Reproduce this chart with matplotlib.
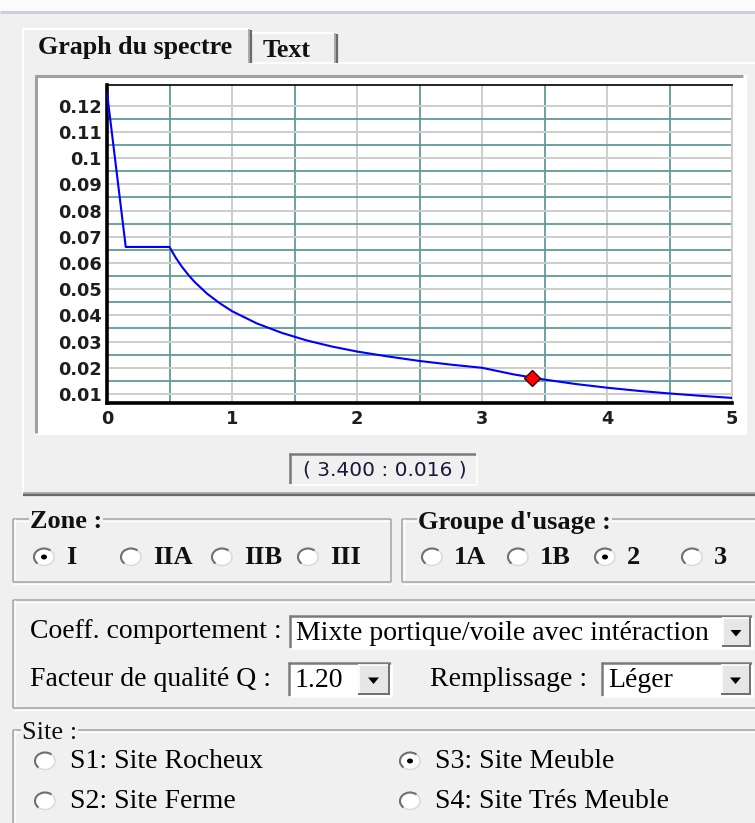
import matplotlib
matplotlib.use('Agg')
import matplotlib.pyplot as plt
from matplotlib.patches import Rectangle, Ellipse, Arc, Polygon

periodes = [0.0, 0.15, 0.5, 0.55, 0.6, 0.65, 0.7, 0.8, 0.9, 1.0, 1.2, 1.4, 1.6, 1.8, 2.0,
            2.25, 2.5, 2.75, 3.0, 3.25, 3.5, 3.75, 4.0, 4.25, 4.5, 4.75, 5.0]
spectre = [0.125, 0.0661, 0.0661, 0.0620, 0.0585, 0.0555, 0.0528, 0.0483, 0.0447, 0.0416,
           0.0369, 0.0333, 0.0304, 0.0281, 0.0262, 0.0243, 0.0226, 0.0212, 0.0200,
           0.0175, 0.0155, 0.0138, 0.0124, 0.0112, 0.0102, 0.0093, 0.0085]
point_t = [3.4]
point_sa = [0.0162]

x_ticks = [0, 1, 2, 3, 4, 5]
x_labels = ['0', '1', '2', '3', '4', '5']
x_minor = [0.5, 1.5, 2.5, 3.5, 4.5]
y_ticks = [0.01, 0.02, 0.03, 0.04, 0.05, 0.06, 0.07, 0.08, 0.09, 0.10, 0.11, 0.12]
y_labels = ['0.01', '0.02', '0.03', '0.04', '0.05', '0.06', '0.07', '0.08', '0.09',
            '0.1', '0.11', '0.12']
y_minor = [0.015, 0.025, 0.035, 0.045, 0.055, 0.065, 0.075, 0.085, 0.095, 0.105, 0.115]

tabs = ['Graph du spectre', 'Text']
zones = ['I', 'IIA', 'IIB', 'III']
zone_choisie = 'I'
groupes = ['1A', '1B', '2', '3']
groupe_choisi = '2'
sites = ['S1: Site Rocheux', 'S2: Site Ferme', 'S3: Site Meuble', 'S4: Site Trés Meuble']
site_choisi = 'S3: Site Meuble'
coeff = 'Mixte portique/voile avec intéraction'
facteur_q = '1.20'
remplissage = 'Léger'

W, H = 755, 823
BG = '#f0f0f0'
SERIF = ['Liberation Serif', 'DejaVu Serif']

fig = plt.figure(figsize=(W / 100, H / 100), dpi=100, facecolor=BG)
ui = fig.add_axes([0, 0, 1, 1])
ui.set_xlim(0, W)
ui.set_ylim(H, 0)
ui.axis('off')


def hline(x0, x1, y, c, lw=1.5):
    ui.plot([x0, x1], [y, y], color=c, lw=lw, solid_capstyle='butt')


def vline(x, y0, y1, c, lw=1.5):
    ui.plot([x, x], [y0, y1], color=c, lw=lw, solid_capstyle='butt')


def sunken(x0, y0, x1, y1, face='white'):
    ui.add_patch(Rectangle((x0, y0), x1 - x0, y1 - y0, fc=face, ec='none'))
    hline(x0, x1, y0 + 1, '#7a7a7a', 1.8)
    vline(x0 + 1, y0, y1, '#7a7a7a', 1.8)
    hline(x0, x1, y1 - 0.5, 'white', 1.2)
    vline(x1 - 0.5, y0, y1, 'white', 1.2)


def groupbox(x0, y0, x1, y1, titre=None, tx=0, bold=True):
    hline(x0, x1, y0, '#a8a8a8', 1.2)
    hline(x0, x1, y0 + 1.5, 'white', 1.0)
    vline(x0, y0, y1, '#a8a8a8', 1.2)
    vline(x0 + 1.5, y0, y1, 'white', 1.0)
    hline(x0, x1, y1, '#a8a8a8', 1.2)
    hline(x0, x1, y1 + 1.5, 'white', 1.0)
    vline(x1, y0, y1, '#a8a8a8', 1.2)
    if titre:
        ui.text(tx, y0 + 3, titre, family=SERIF, fontsize=19,
                fontweight='bold' if bold else 'normal', color='#111111',
                ha='left', va='center',
                bbox=dict(fc=BG, ec='none', pad=0.5))


def radio(x, y, coche):
    ui.add_patch(Ellipse((x, y), 20, 17, fc='white', ec='#d8d8d8', lw=1.0))
    ui.add_patch(Arc((x, y), 20, 17, theta1=135, theta2=315, color='#707070', lw=1.5))
    if coche:
        ui.add_patch(Ellipse((x, y), 6, 5, fc='black', ec='none'))


def combo(x0, y0, x1, y1, texte, bx):
    sunken(x0, y0, x1, y1)
    ui.text(x0 + 7, (y0 + y1) / 2 + 1, texte, family=SERIF, fontsize=20,
            color='black', ha='left', va='center')
    ui.add_patch(Rectangle((bx, y0 + 2), x1 - 2 - bx, y1 - y0 - 4, fc='#e6e6e6', ec='none'))
    hline(bx, x1 - 2, y0 + 2.5, 'white', 1.2)
    vline(bx + 0.5, y0 + 2, y1 - 2, 'white', 1.2)
    hline(bx, x1 - 2, y1 - 3, '#6e6e6e', 1.4)
    vline(x1 - 3, y0 + 2, y1 - 2, '#6e6e6e', 1.4)
    cx, cy = (bx + x1 - 3) / 2, (y0 + y1) / 2 + 1
    ui.add_patch(Polygon([[cx - 5.5, cy - 3], [cx + 5.5, cy - 3], [cx, cy + 3.5]],
                         closed=True, fc='black', ec='none'))


# bandeau du haut
ui.add_patch(Rectangle((0, 0), W, 11, fc='#fbfbfb', ec='none'))
hline(0, W, 12, '#c7cde0', 2.0)

# page des onglets
vline(23, 63, 494, 'white', 1.5)
hline(251, W, 63, 'white', 1.5)
hline(23, W, 493, '#a0a0a0', 1.2)
hline(23, W, 495, '#6a6a6a', 1.6)

# onglet actif
ui.add_patch(Rectangle((23, 29), 228, 36, fc=BG, ec='none'))
vline(23, 29, 64, 'white', 1.5)
hline(23, 249, 29, 'white', 1.5)
vline(248.5, 29, 63, '#a0a0a0', 1.2)
vline(250.5, 30, 63, '#6a6a6a', 1.6)
ui.text(38, 47, tabs[0], family=SERIF, fontsize=18.7, fontweight='bold',
        color='#111111', ha='left', va='center')

# onglet inactif
hline(252, 336, 33, 'white', 1.5)
vline(334.5, 33, 63, '#a0a0a0', 1.2)
vline(336.5, 34, 63, '#6a6a6a', 1.6)
ui.text(263, 50, tabs[1], family=SERIF, fontsize=18.7, fontweight='bold',
        color='#111111', ha='left', va='center')

# cadre du graphe
ui.add_patch(Rectangle((35, 75), 712, 360, fc='white', ec='none'))
hline(35, 743, 75.5, '#a0a0a0', 2.2)
vline(35.5, 75, 433, '#a0a0a0', 2.2)

# coordonnées du point
sunken(289, 453, 477, 485, face=BG)
ui.text(385, 470, '( %.3f : %.3f )' % (point_t[0], point_sa[0]), family='DejaVu Sans',
        fontsize=14.5, color='#18183a', ha='center', va='center')

# zone
groupbox(13, 519, 391, 582, 'Zone :', 30)
zone_x = [44, 131, 222, 308]
for z, zx in zip(zones, zone_x):
    radio(zx, 557, z == zone_choisie)
    ui.text(zx + 22, 557, z, family=SERIF, fontsize=19, fontweight='bold',
            color='#111111', ha='left', va='center')

# groupe d'usage
groupbox(402, 519, 770, 582, "Groupe d'usage :", 418)
groupe_x = [432, 518, 605, 692]
for g, gx in zip(groupes, groupe_x):
    radio(gx, 557, g == groupe_choisi)
    ui.text(gx + 22, 557, g, family=SERIF, fontsize=19, fontweight='bold',
            color='#111111', ha='left', va='center')

# coefficients
groupbox(13, 600, 770, 708)
ui.text(30, 632, 'Coeff. comportement :', family=SERIF, fontsize=20,
        color='black', ha='left', va='center')
combo(289, 615, 753, 649, coeff, 722)
ui.text(30, 680, 'Facteur de qualité Q :', family=SERIF, fontsize=20,
        color='black', ha='left', va='center')
combo(288, 662, 392, 697, facteur_q, 358)
ui.text(430, 680, 'Remplissage :', family=SERIF, fontsize=20,
        color='black', ha='left', va='center')
combo(601, 662, 753, 697, remplissage, 721)

# site
groupbox(13, 730, 770, 840, 'Site :', 22, bold=False)
site_pos = [(45, 761), (45, 801), (410, 761), (410, 801)]
for s, (sx, sy) in zip(sites, site_pos):
    radio(sx, sy, s == site_choisi)
    ui.text(sx + 25, sy, s, family=SERIF, fontsize=20, color='black',
            ha='left', va='center')

# graphe du spectre
ax = fig.add_axes([107 / W, 1 - 403 / H, 625 / W, 318 / H])
ax.set_facecolor('white')
ax.set_xlim(0, 5)
ax.set_ylim(0.00656, 0.1279)
ax.set_xticks(x_ticks)
ax.set_xticklabels(x_labels)
ax.set_xticks(x_minor, minor=True)
ax.set_yticks(y_ticks)
ax.set_yticklabels(y_labels)
ax.set_yticks(y_minor, minor=True)
ax.set_axisbelow(True)
ax.grid(which='major', color='#cdcdcd', lw=1.4)
ax.grid(which='minor', color='#5f9b97', lw=1.3)
ax.tick_params(which='both', length=0)
ax.tick_params(axis='x', pad=5)
ax.tick_params(axis='y', pad=4)
for lab in ax.get_xticklabels() + ax.get_yticklabels():
    lab.set_family('DejaVu Sans')
    lab.set_fontweight('bold')
    lab.set_fontsize(12.8)
    lab.set_color('#1e1e1e')
ax.spines['left'].set_linewidth(2.6)
ax.spines['bottom'].set_linewidth(2.6)
ax.spines['top'].set_linewidth(1.2)
ax.spines['right'].set_color('#cdcdcd')
ax.spines['right'].set_linewidth(1.4)

ax.plot(periodes, spectre, color='#0000ff', lw=1.5, zorder=3)
ax.plot(point_t, point_sa, marker='D', ms=8, mfc='#ff0000', mec='#3a0000', mew=1,
        ls='none', zorder=4)

fig.savefig('out.png', dpi=100, facecolor=BG)
